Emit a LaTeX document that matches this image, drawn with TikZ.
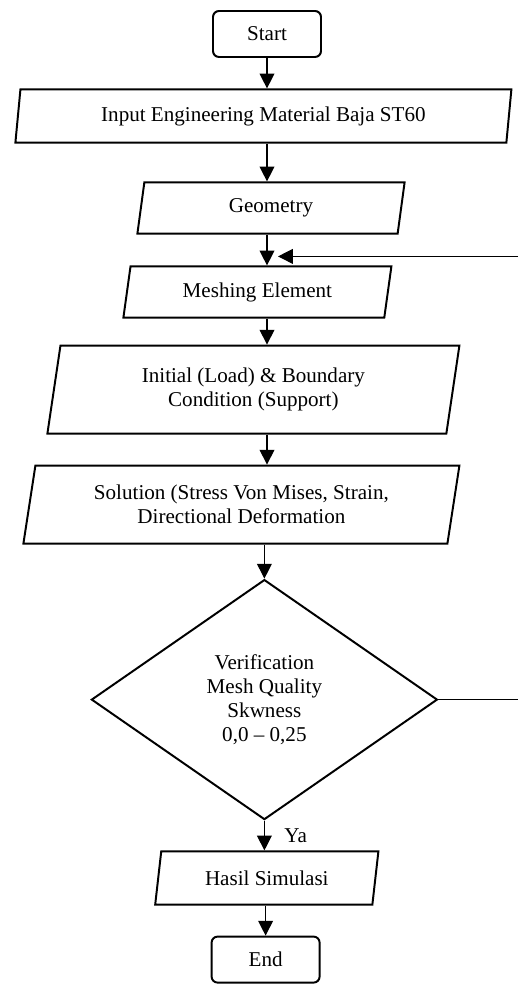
\documentclass[tikz,border=0pt]{standalone}
\usepackage{fontspec}
\setmainfont{Liberation Serif}
\usetikzlibrary{shapes.geometric, arrows.meta}
\tikzstyle{startstop} = [rectangle, rounded corners=0.15cm, minimum width=2.7cm, minimum height=1.15cm, text centered, draw=black, line width=1.4pt]
\tikzstyle{io} = [trapezium, trapezium left angle=76, trapezium right angle=104, trapezium stretches body, minimum height=1.3cm, text centered, align=center, draw=black, line width=1.4pt]
\tikzstyle{decision} = [diamond, aspect=1.44, inner sep=0pt, minimum width=8.65cm, minimum height=6cm, text centered, align=center, draw=black, line width=1.4pt]
\tikzstyle{arrow} = [line width=0.8pt, -{Triangle[length=0.37cm, width=0.37cm]}]
\begin{document}
\begin{tikzpicture}[node distance=2cm, font=\fontsize{15}{17}\selectfont]
\useasboundingbox (-6.675,0.85) rectangle (6.275,-23.75);
\node (start) [startstop] {Start};
\node (in1) [io, below of=start, xshift=-0.09cm, yshift=-0.05cm, trapezium left angle=80, trapezium right angle=100, minimum width=12.4cm, minimum height=1.33cm] {Input Engineering Material Baja ST60};
\node (in2) [io, below of=in1, xshift=0.19cm, yshift=-0.3cm, minimum width=6.68cm, minimum height=1.28cm] {Geometry};
\node (pro1) [io, below of=in2, xshift=-0.34cm, yshift=-0.1cm, minimum width=6.7cm, minimum height=1.28cm] {Meshing Element};
\node (pro2) [io, below of=pro1, xshift=-0.1cm, yshift=-0.44cm, minimum width=10.3cm, minimum height=2.2cm] {Initial (Load) \& Boundary\\Condition (Support)};
\node (pro3) [io, below of=pro2, xshift=-0.3cm, yshift=-0.875cm, minimum width=10.9cm, minimum height=1.95cm] {Solution (Stress Von Mises, Strain,\\Directional Deformation};
\node (dec1) [decision, below of=pro3, xshift=0.575cm, yshift=-2.875cm] {Verification\\Mesh Quality\\Skwness\\0,0 -- 0,25};
\node (out1) [io, below of=dec1, xshift=0.06cm, yshift=-2.46cm, minimum width=5.58cm, minimum height=1.33cm] {Hasil Simulasi};
\node (stop) [startstop, below of=out1, xshift=-0.03cm, yshift=-0.04cm] {End};
\draw [arrow] (start) -- (start |- in1.north);
\draw [arrow] (start |- in1.south) -- (start |- in2.north);
\draw [arrow] (start |- in2.south) -- (start |- pro1.north);
\draw [arrow] (start |- pro1.south) -- (start |- pro2.north);
\draw [arrow] (start |- pro2.south) -- (start |- pro3.north);
\draw [arrow] (dec1.north |- pro3.south) -- (dec1.north);
\draw [arrow] (dec1.south) -- node (ya) [right, xshift=0.37cm] {Ya} (dec1.south |- out1.north);
\draw [arrow] (stop.north |- out1.south) -- (stop.north);
% loop back from the check
\path (start |- pro1.north) ++(0.275,0.225) coordinate (fbtip);
\path (fbtip) ++(6,0) coordinate (fbin);
\path (dec1.east) ++(2,0) coordinate (fbout);
\draw [line width=0.8pt] (dec1.east) -- (fbout);
\draw [arrow] (fbin) -- (fbtip);
\end{tikzpicture}
\end{document}
